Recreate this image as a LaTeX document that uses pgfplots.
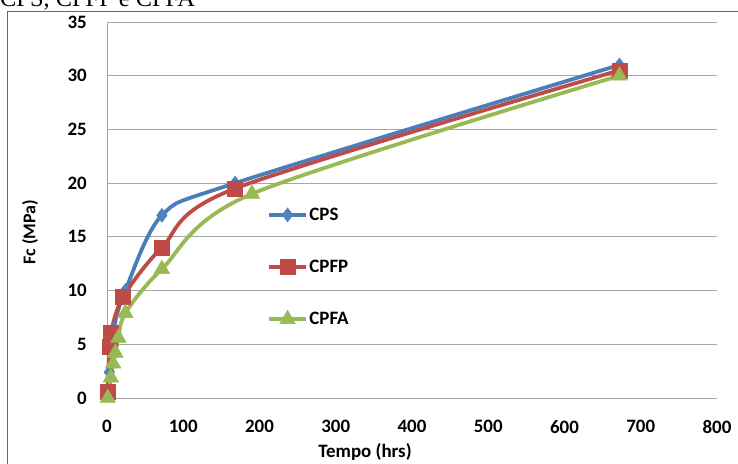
\documentclass[border=0pt]{standalone}
\usepackage{pgfplots}
\pgfplotsset{compat=1.18}
\usepackage{fontspec}
\setmainfont{Carlito}
\newfontfamily\titlefont{Liberation Serif}
\definecolor{cpsblue}{HTML}{4A7EBB}
\definecolor{cpsbluem}{HTML}{4F81BD}
\definecolor{cpfpred}{HTML}{BE4B48}
\definecolor{cpfagreen}{HTML}{98B954}
\definecolor{gridc}{HTML}{A6A6A6}
\begin{document}
\begin{tikzpicture}[x=1bp,y=1bp]
\useasboundingbox (0,0) rectangle (738,464);
\clip (0,0) rectangle (738,464);
\fill[white] (0,0) rectangle (738,464);
\draw[color=black!60, line width=0.8bp] (7.5,-5) -- (7.5,452.5) -- (745,452.5);
\node[anchor=base west, inner sep=0pt, font=\titlefont\fontsize{24.5}{27}\selectfont] at (0,457) {CPS, CPFP e CPFA};
\begin{axis}[
  at={(107bp,66bp)}, anchor=south west,
  scale only axis, width=610bp, height=376bp,
  xmin=0, xmax=800, ymin=0, ymax=35,
  xtick={0,100,...,800}, ytick={0,5,...,35},
  axis lines*=left,
  axis line style={color=gridc, line width=0.8bp},
  x axis line style={draw=none},
  ymajorgrids, grid style={color=gridc, line width=0.8bp},
  major tick length=0pt,
  tick label style={font=\bfseries\fontsize{19}{22}\selectfont, inner sep=0pt},
  /pgf/number format/assume math mode=true,
  xticklabel style={anchor=north, yshift=-22bp},
  yticklabel style={anchor=east, xshift=-20bp},
  clip=false,
  legend style={draw=none, fill=none, at={(axis cs:209.8,12.19)}, anchor=west,
    font=\bfseries\fontsize{19}{22}\selectfont, row sep=35bp,
    legend cell align=left, inner sep=0pt,
    nodes={inner sep=1.5bp}},
  legend image code/.code={
    \draw[#1, mark=none] (0bp,0bp) -- (37bp,0bp);
    \draw[#1, only marks] plot coordinates {(18.5bp,0bp)};
  },
]
\addplot[color=cpsblue, line width=3.8bp, smooth, mark=diamond*, mark size=7bp,
  mark options={fill=cpsbluem, draw=cpsbluem, line width=0.5bp}]
  coordinates {(3,2.4) (9,6.5) (24,10) (72,17) (168,20) (672,31)};
\addlegendentry{CPS}
\addplot[color=cpfpred, line width=3.8bp, smooth, mark=square*, mark size=7.5bp,
  mark options={fill=cpfpred, draw=cpfpred, line width=0.5bp}]
  coordinates {(1,0.6) (3,4.8) (5,6.1) (21,9.4) (72,14) (168,19.5) (672,30.5)};
\addlegendentry{CPFP}
\addplot[color=cpfagreen, line width=3.8bp, smooth, mark=triangle*, mark size=9bp,
  mark options={fill=cpfagreen, draw=cpfagreen, line width=0.5bp}]
  coordinates {(1,0) (5,1.9) (8,3.2) (11,4.2) (15,5.6) (24,7.9) (72,12) (190,19) (672,30)};
\addlegendentry{CPFA}
\end{axis}
\node[anchor=base, inner sep=0pt, font=\bfseries\fontsize{19}{22}\selectfont] at (365,6) {Tempo (hrs)};
\node[inner sep=0pt, font=\bfseries\fontsize{18}{21}\selectfont, rotate=90] at (30,232) {Fc (MPa)};
\end{tikzpicture}
\end{document}
